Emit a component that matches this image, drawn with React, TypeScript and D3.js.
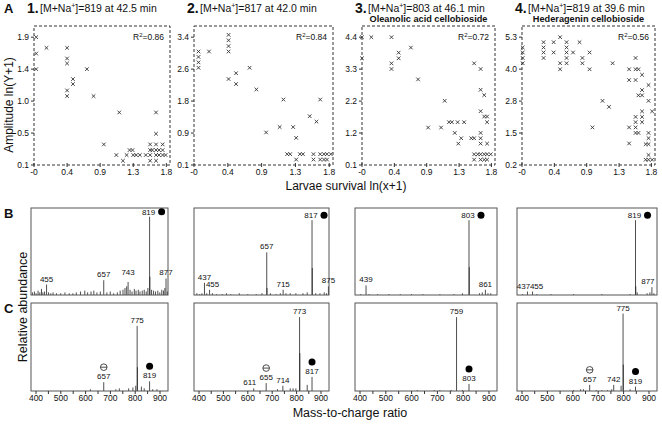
import React from 'react';
import * as d3 from 'd3';

const W = 662, H = 425;
const FONT = 'Arial, "Liberation Sans", Helvetica, sans-serif';

// ---------------- Row A: scatter plots ----------------
const survivalTicks = [0, 0.45, 0.9, 1.35, 1.8];
const survivalTickLabels = ['-0', '0.4', '0.9', '1.3', '1.8'];

const ampTicks1 = [0.1, 0.55, 1.0, 1.45, 1.9];
const ampTicks2 = [0.1, 0.925, 1.75, 2.575, 3.4];
const ampTicks3 = [0.1, 1.175, 2.25, 3.325, 4.4];
const ampTicks4 = [0.2, 1.475, 2.75, 4.025, 5.3];
const ampLabels1 = ['0.1', '0.5', '1.0', '1.4', '1.9'];
const ampLabels2 = ['0.1', '0.9', '1.8', '2.6', '3.4'];
const ampLabels3 = ['0.1', '1.2', '2.2', '3.3', '4.4'];
const ampLabels4 = ['0.2', '1.5', '2.8', '4.0', '5.3'];

const panelNumbers = ['1.', '2.', '3.', '4.'];
const ionMasses = ['819', '817', '803', '819'];
const retentionTimes = ['42.5', '42.0', '46.1', '39.6'];
const compoundNames = ['', '', 'Oleanolic acid cellobioside', 'Hederagenin cellobioside'];
const r2Values = ['0.86', '0.84', '0.72', '0.56'];

const scatter1: [number, number][] = [
  [0.03, 1.9], [0.03, 1.67], [0.03, 1.45], [0.17, 1.75], [0.45, 1.75], [0.45, 1.6], [0.45, 1.53],
  [0.45, 1.15], [0.45, 1.07], [0.53, 1.31], [0.53, 1.24], [0.72, 1.45], [0.81, 1.07], [0.95, 0.39],
  [1.16, 0.84], [1.12, 0.24], [1.21, 0.16], [1.26, 0.24], [1.3, 0.31], [1.34, 0.31], [1.35, 0.24],
  [1.39, 0.24], [1.44, 0.24], [1.52, 0.24], [1.58, 0.39], [1.58, 0.31], [1.58, 0.24], [1.58, 0.16],
  [1.66, 0.84], [1.66, 0.54], [1.66, 0.39], [1.75, 0.39], [1.61, 0.31], [1.66, 0.31], [1.7, 0.31],
  [1.75, 0.31], [1.66, 0.24], [1.7, 0.24], [1.75, 0.24], [1.79, 0.24], [1.66, 0.16],
];
const scatter2: [number, number][] = [
  [0.06, 3.03], [0.06, 2.89], [0.06, 2.75], [0.06, 2.61], [0.2, 3.03], [0.46, 3.46], [0.46, 3.32],
  [0.46, 3.17], [0.46, 3.03], [0.46, 2.32], [0.56, 2.47], [0.56, 2.19], [0.74, 2.61], [0.83, 2.05],
  [1.19, 1.79], [1.68, 1.79], [0.96, 0.94], [1.14, 1.08], [1.32, 1.08], [1.36, 0.8], [1.54, 1.36],
  [1.63, 1.22], [1.24, 0.38], [1.28, 0.38], [1.41, 0.38], [1.45, 0.38], [1.59, 0.38], [1.68, 0.38],
  [1.73, 0.38], [1.77, 0.38], [1.82, 0.38], [1.36, 0.24], [1.59, 0.24], [1.68, 0.24], [1.73, 0.24],
  [1.77, 0.24],
];
const scatter3: [number, number][] = [
  [0.0, 4.4], [0.13, 4.4], [0.41, 4.4], [0.0, 3.69], [0.41, 3.52], [0.41, 3.33], [0.51, 3.88],
  [0.51, 3.69], [0.68, 4.05], [0.78, 2.98], [1.15, 2.26], [0.92, 1.36], [1.1, 1.36], [1.21, 1.54],
  [1.25, 1.54], [1.33, 1.54], [1.42, 1.54], [1.29, 1.18], [1.38, 1.0], [1.34, 0.82], [1.52, 1.0],
  [1.56, 1.0], [1.56, 3.52], [1.65, 3.33], [1.65, 2.63], [1.7, 2.45], [1.65, 1.91], [1.7, 1.73],
  [1.74, 1.73], [1.74, 1.54], [1.65, 1.18], [1.65, 1.0], [1.65, 0.82], [1.74, 0.82], [1.56, 0.46],
  [1.61, 0.46], [1.65, 0.46], [1.7, 0.46], [1.74, 0.46], [1.79, 0.46], [1.56, 0.28], [1.65, 0.28],
  [1.7, 0.28], [1.74, 0.28],
];
const scatter4: [number, number][] = [
  [0.01, 4.89], [0.01, 4.69], [0.01, 4.47], [0.01, 4.26], [0.3, 5.1], [0.3, 4.89], [0.3, 4.69],
  [0.3, 4.47], [0.44, 5.1], [0.44, 4.69], [0.53, 5.3], [0.53, 4.26], [0.53, 4.02], [0.62, 5.1],
  [0.62, 4.89], [0.62, 4.69], [0.62, 4.47], [0.62, 4.26], [0.71, 4.69], [0.8, 5.1], [0.84, 4.47],
  [0.84, 4.26], [0.94, 4.69], [0.94, 4.02], [1.26, 4.26], [1.12, 2.76], [1.21, 2.52], [0.98, 1.7],
  [1.49, 4.02], [1.49, 3.59], [1.49, 1.7], [1.49, 1.06], [1.58, 4.47], [1.58, 4.02], [1.58, 3.59],
  [1.58, 2.12], [1.58, 1.91], [1.58, 1.7], [1.58, 1.48], [1.62, 4.02], [1.62, 1.48], [1.67, 3.8],
  [1.67, 3.19], [1.67, 2.98], [1.62, 2.98], [1.67, 2.34], [1.67, 2.12], [1.67, 1.91], [1.76, 3.39],
  [1.76, 2.76], [1.76, 1.48], [1.76, 1.27], [1.76, 1.03], [1.76, 0.6], [1.76, 0.41], [1.72, 1.03],
  [1.72, 0.41], [1.81, 2.34], [1.81, 0.41],
];

// ---------------- Rows B and C: mass spectra (m/z, % of frame height) ----------------
const peaksB1: [number, number][] = [
  [819, 90], [820, 21], [455, 12], [657, 17], [743, 15], [877, 19],
  [405, 3], [412, 4], [418, 2], [425, 5], [431, 3], [437, 7], [442, 3], [448, 4], [462, 3], [470, 2],
  [478, 3], [490, 2], [505, 2], [520, 3], [535, 2], [548, 2], [560, 3], [575, 4], [590, 5], [600, 3],
  [612, 4], [622, 5], [633, 3], [645, 4], [668, 3], [680, 4], [692, 2], [705, 3], [715, 5], [725, 6],
  [732, 8], [738, 10], [750, 6], [757, 4], [765, 7], [771, 5], [779, 6], [785, 4], [793, 5], [800, 6],
  [807, 4], [813, 8], [826, 6], [833, 5], [840, 4], [848, 5], [855, 3], [862, 6], [868, 5], [873, 8],
  [882, 4],
];
const peaksB2: [number, number][] = [
  [817, 86], [818, 31], [657, 49], [658, 8], [437, 14], [455, 6], [715, 6], [875, 10],
  [410, 2], [420, 1], [428, 2], [445, 2], [465, 2], [480, 1], [500, 1], [515, 2], [530, 1], [560, 2],
  [590, 1], [620, 1], [640, 2], [670, 2], [690, 1], [705, 2], [725, 2], [740, 2], [760, 2], [785, 2],
  [800, 3], [830, 2], [845, 2], [860, 3], [868, 2],
];
const peaksB3: [number, number][] = [
  [803, 86], [804, 32], [439, 11], [861, 6],
  [420, 1], [450, 1], [480, 1], [520, 1], [560, 1], [600, 1], [640, 1], [700, 1], [750, 1], [780, 2],
  [840, 2], [850, 3], [870, 2], [880, 2],
];
const peaksB4: [number, number][] = [
  [819, 86], [820, 10], [437, 4], [455, 4], [877, 9],
  [420, 1], [470, 1], [520, 1], [600, 1], [700, 1], [800, 1], [825, 3], [860, 2], [870, 3], [884, 2],
];
const peaksC1: [number, number][] = [
  [775, 74], [776, 27], [657, 10], [819, 11],
  [610, 2], [700, 2], [712, 3], [745, 3], [760, 4], [770, 6], [790, 5], [800, 3], [830, 2], [845, 2],
];
const peaksC2: [number, number][] = [
  [773, 84], [774, 43], [655, 9], [611, 3], [714, 6], [817, 16],
  [800, 7], [750, 3], [695, 2], [740, 3], [760, 3],
];
const peaksC3: [number, number][] = [
  [759, 84], [803, 8], [620, 1], [680, 1], [700, 1], [740, 1], [780, 1],
];
const peaksC4: [number, number][] = [
  [775, 88], [776, 30], [657, 7], [742, 7], [819, 5],
  [600, 1], [625, 2], [635, 2], [680, 1], [700, 1], [720, 1], [735, 2], [768, 6], [800, 2],
];

type Annot = { mz: number; label: string; mark?: 'dot' | 'minus'; side?: boolean; dx?: number; dy?: number };
const annotB1: Annot[] = [
  { mz: 819, label: '819', mark: 'dot', side: true }, { mz: 455, label: '455' },
  { mz: 657, label: '657' }, { mz: 743, label: '743', dy: -4 }, { mz: 877, label: '877' },
];
const annotB2: Annot[] = [
  { mz: 817, label: '817', mark: 'dot', side: true }, { mz: 657, label: '657' },
  { mz: 437, label: '437' }, { mz: 455, label: '455', dx: 3 }, { mz: 715, label: '715' }, { mz: 875, label: '875' },
];
const annotB3: Annot[] = [
  { mz: 803, label: '803', mark: 'dot', side: true }, { mz: 439, label: '439' }, { mz: 861, label: '861' },
];
const annotB4: Annot[] = [
  { mz: 819, label: '819', mark: 'dot', side: true }, { mz: 437, label: '437', dx: -4 },
  { mz: 455, label: '455', dx: 4 }, { mz: 877, label: '877', dx: -4 },
];
const annotC1: Annot[] = [
  { mz: 775, label: '775' }, { mz: 657, label: '657', mark: 'minus' }, { mz: 819, label: '819', mark: 'dot' },
];
const annotC2: Annot[] = [
  { mz: 773, label: '773' }, { mz: 655, label: '655', mark: 'minus' }, { mz: 611, label: '611', dx: -4 },
  { mz: 714, label: '714' }, { mz: 817, label: '817', mark: 'dot' },
];
const annotC3: Annot[] = [{ mz: 759, label: '759' }, { mz: 803, label: '803', mark: 'dot' }];
const annotC4: Annot[] = [
  { mz: 775, label: '775' }, { mz: 657, label: '657', mark: 'minus' }, { mz: 742, label: '742' },
  { mz: 819, label: '819', mark: 'dot' },
];
const mzTickLabels = [400, 500, 600, 700, 800, 900];

// ---------------- layout ----------------
const aLeft = [34, 194, 362, 522];
const aRight = [170, 333, 495, 655];
const aTop = 26, aBottom = 165;
const sLeft = [31, 194, 355, 517];
const sRight = [168, 329, 497, 657];
const mzMax = [884, 877, 902, 895];
const bTop = 208, bBottom = 295, cTop = 303, cBottom = 391;

const ampTicks = [ampTicks1, ampTicks2, ampTicks3, ampTicks4];
const ampLabels = [ampLabels1, ampLabels2, ampLabels3, ampLabels4];
const scatters = [scatter1, scatter2, scatter3, scatter4];
const peaksB = [peaksB1, peaksB2, peaksB3, peaksB4];
const peaksC = [peaksC1, peaksC2, peaksC3, peaksC4];
const annotsB = [annotB1, annotB2, annotB3, annotB4];
const annotsC = [annotC1, annotC2, annotC3, annotC4];

function ScatterPanel({ i }: { i: number }) {
  const L = aLeft[i], R = aRight[i];
  const x = d3.scaleLinear().domain([0, 1.85]).range([L, R]);
  const t = ampTicks[i];
  const step = t[1] - t[0];
  const y = d3.scaleLinear().domain([t[0], t[4] + 0.35 * step]).range([aBottom, aTop]);
  return (
    <g>
      <rect x={L} y={aTop} width={R - L} height={aBottom - aTop} fill="none" stroke="#333" strokeWidth={1} strokeDasharray="3,2" />
      {t.map((v, k) => (
        <g key={'y' + k}>
          <line x1={L - 3} x2={L} y1={y(v)} y2={y(v)} stroke="#333" />
          <text x={L - 5} y={y(v) + 3} textAnchor="end" fontSize={8.5} fill="#111">{ampLabels[i][k]}</text>
        </g>
      ))}
      {survivalTicks.map((v, k) => (
        <g key={'x' + k}>
          <line x1={x(v)} x2={x(v)} y1={aBottom - 2} y2={aBottom + 2} stroke="#333" />
          <text x={x(v)} y={175} textAnchor="middle" fontSize={8.5} fill="#111">{survivalTickLabels[k]}</text>
        </g>
      ))}
      {scatters[i].map(([a, b], k) => (
        <path key={k} d="M-1.8,-1.8L1.8,1.8M-1.8,1.8L1.8,-1.8" transform={`translate(${x(a)},${y(b)})`} stroke="#333" strokeWidth={0.9} fill="none" />
      ))}
      <text x={R - 6} y={40} textAnchor="end" fontSize={8.5} fill="#111">
        R<tspan dy={-3} fontSize={6}>2</tspan><tspan dy={3}>={r2Values[i]}</tspan>
      </text>
      <text x={L - 7} y={13} fontSize={14} fontWeight="bold" fill="#111">{panelNumbers[i]}</text>
      <text x={L + 6} y={12} fontSize={10.5} fill="#111">
        [M+Na<tspan dy={-4} fontSize={7}>+</tspan><tspan dy={4}>]={ionMasses[i]} at {retentionTimes[i]} min</tspan>
      </text>
      {compoundNames[i] && (
        <text x={(L + R) / 2} y={22} textAnchor="middle" fontSize={9.2} fontWeight="bold" fill="#111">{compoundNames[i]}</text>
      )}
    </g>
  );
}

function Marker({ kind, cx, cy }: { kind: 'dot' | 'minus'; cx: number; cy: number }) {
  if (kind === 'dot') return <circle cx={cx} cy={cy} r={3.5} fill="#000" />;
  return (
    <g>
      <circle cx={cx} cy={cy} r={3.3} fill="none" stroke="#222" strokeWidth={0.8} />
      <line x1={cx - 3.3} x2={cx + 3.3} y1={cy} y2={cy} stroke="#222" strokeWidth={0.8} />
    </g>
  );
}

function Spectrum({ i, row }: { i: number; row: 'B' | 'C' }) {
  const left = sLeft[i], right = sRight[i];
  const top = row === 'B' ? bTop : cTop;
  const bottom = row === 'B' ? bBottom : cBottom;
  const peaks = row === 'B' ? peaksB[i] : peaksC[i];
  const annots = row === 'B' ? annotsB[i] : annotsC[i];
  const x = d3.scaleLinear().domain([400, mzMax[i]]).range([left, right]);
  const y = d3.scaleLinear().domain([0, 100]).range([bottom, top]);
  const axis = d3.scaleLinear().domain([400, 900]).range([left + 5, right - 8]);
  const intensity = (mz: number) => (peaks.find(p => p[0] === mz) || [mz, 0])[1];
  return (
    <g>
      {peaks.map(([mz, v], k) => (
        <line key={k} x1={x(mz)} x2={x(mz)} y1={bottom} y2={y(v)} stroke="#222" strokeWidth={0.8} />
      ))}
      <rect x={left} y={top} width={right - left} height={bottom - top} fill="none" stroke="#555" strokeWidth={1} />
      {annots.map((a, k) => {
        const px = x(a.mz), py = y(intensity(a.mz));
        if (a.side) {
          return (
            <g key={k}>
              <text x={px - 1} y={py - 2} textAnchor="middle" fontSize={8} fill="#111">{a.label}</text>
              <Marker kind="dot" cx={px + 12} cy={py - 5} />
            </g>
          );
        }
        const tx = px + (a.dx || 0);
        const ty = py - 3 + (a.dy || 0);
        return (
          <g key={k}>
            <text x={tx} y={ty} textAnchor="middle" fontSize={8} fill="#111">{a.label}</text>
            {a.mark && <Marker kind={a.mark} cx={tx} cy={ty - 12} />}
          </g>
        );
      })}
      {row === 'C' && (
        <g>
          {d3.range(400, 901, 50).map(v => (
            <line key={v} x1={axis(v)} x2={axis(v)} y1={bottom} y2={bottom + 3} stroke="#333" />
          ))}
          {mzTickLabels.map(v => (
            <text key={'l' + v} x={axis(v)} y={401} textAnchor="middle" fontSize={8.5} fill="#111">{v}</text>
          ))}
        </g>
      )}
    </g>
  );
}

export default function App() {
  return (
    <svg width={W} height={H} style={{ position: 'absolute', left: 0, top: 0, background: '#fff' }} fontFamily={FONT}>
      <rect width={W} height={H} fill="#fff" />
      <text x={4} y={13} fontSize={13} fontWeight="bold" fill="#111">A</text>
      <text x={4} y={218} fontSize={13} fontWeight="bold" fill="#111">B</text>
      <text x={4} y={313} fontSize={13} fontWeight="bold" fill="#111">C</text>
      {[0, 1, 2, 3].map(i => <ScatterPanel key={'a' + i} i={i} />)}
      {[0, 1, 2, 3].map(i => <Spectrum key={'b' + i} i={i} row="B" />)}
      {[0, 1, 2, 3].map(i => <Spectrum key={'c' + i} i={i} row="C" />)}
      <text transform="translate(13,105) rotate(-90)" textAnchor="middle" fontSize={12} fill="#111">Amplitude ln(Y+1)</text>
      <text x={346} y={190} textAnchor="middle" fontSize={12} fill="#111">Larvae survival ln(x+1)</text>
      <text transform="translate(27,307) rotate(-90)" textAnchor="middle" fontSize={12.5} fill="#111">Relative abundance</text>
      <text x={350} y={417} textAnchor="middle" fontSize={12.5} fill="#111">Mass-to-charge ratio</text>
    </svg>
  );
}
